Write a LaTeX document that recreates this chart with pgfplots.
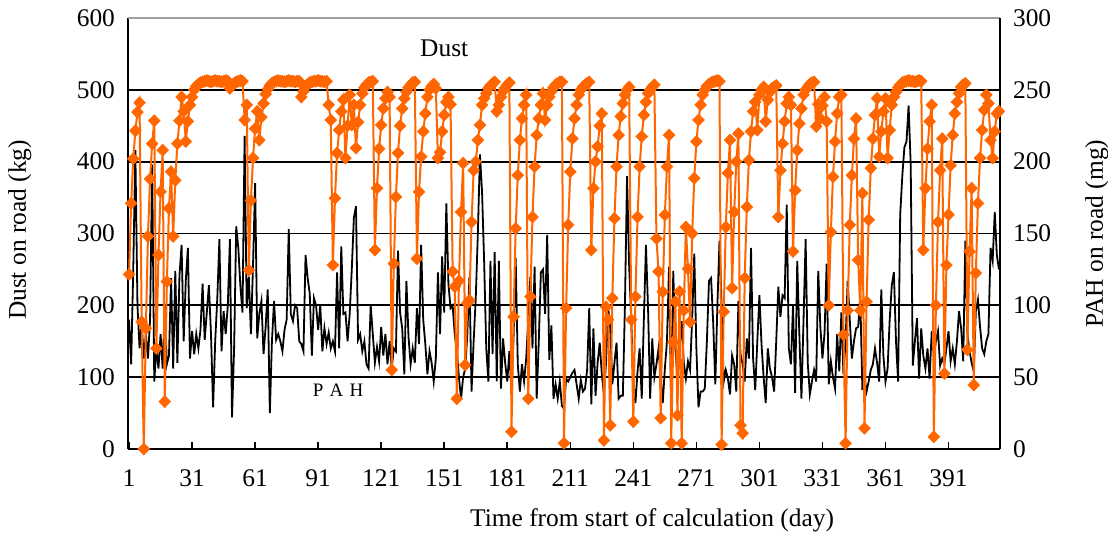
\documentclass[border=0pt]{standalone}
\usepackage{pgfplots}
\pgfplotsset{compat=1.18}
\usepackage{pgfplotstable}
\usepackage{fontspec}
\setmainfont{Liberation Serif}
\definecolor{dustorange}{RGB}{255,102,0}

% Dust on road (kg), day 1..415
\pgfplotstableread[row sep=\\]{d\\
243\\342\\404\\443\\469\\482\\177\\0\\168\\296\\376\\425\\457\\140\\270\\358\\416\\66\\233\\335\\386\\296\\374\\425\\457\\490\\470\\428\\456\\479\\490\\500\\505\\508\\510\\
511\\512\\513\\512\\511\\512\\513\\512\\512\\511\\512\\513\\512\\502\\506\\509\\511\\512\\513\\512\\458\\479\\249\\346\\405\\446\\470\\430\\462\\481\\494\\501\\506\\509\\511\\
512\\513\\512\\512\\511\\512\\513\\512\\512\\511\\512\\512\\490\\498\\504\\508\\510\\511\\512\\512\\513\\512\\512\\511\\512\\479\\458\\256\\349\\412\\444\\470\\486\\
405\\450\\493\\451\\479\\419\\455\\479\\495\\503\\507\\510\\511\\512\\277\\363\\418\\451\\474\\488\\497\\490\\110\\258\\351\\412\\450\\474\\488\\497\\503\\507\\510\\511\\265\\358\\
407\\442\\467\\490\\500\\505\\508\\502\\405\\413\\442\\465\\483\\490\\480\\247\\226\\70\\234\\330\\398\\117\\203\\207\\316\\388\\400\\430\\451\\479\\488\\495\\502\\506\\509\\
511\\470\\479\\490\\498\\503\\507\\510\\24\\184\\307\\381\\430\\460\\479\\493\\70\\212\\323\\393\\437\\460\\479\\495\\458\\479\\490\\498\\503\\507\\509\\511\\511\\
8\\196\\312\\386\\432\\460\\479\\493\\500\\504\\507\\509\\511\\277\\363\\400\\421\\450\\467\\12\\198\\180\\33\\210\\321\\393\\437\\463\\481\\493\\500\\504\\180\\38\\212\\323\\393\\435\\465\\483\\495\\500\\504\\507\\
293\\247\\43\\219\\326\\393\\437\\8\\149\\205\\47\\219\\8\\193\\309\\251\\177\\300\\377\\428\\458\\479\\493\\500\\505\\508\\510\\
511\\512\\513\\512\\6\\191\\309\\384\\430\\224\\330\\400\\439\\33\\22\\238\\337\\402\\442\\470\\483\\444\\493\\500\\504\\456\\486\\497\\502\\504\\506\\323\\388\\425\\
456\\481\\490\\479\\275\\360\\416\\453\\474\\493\\500\\504\\508\\510\\511\\449\\480\\460\\478\\490\\456\\200\\302\\379\\428\\467\\490\\493\\159\\8\\193\\312\\381\\432\\460\\
263\\193\\356\\29\\205\\319\\391\\432\\465\\488\\407\\442\\470\\488\\405\\444\\479\\490\\497\\503\\507\\510\\511\\512\\513\\512\\512\\511\\512\\513\\512\\277\\363\\418\\456\\479\\17\\200\\316\\388\\432\\
105\\256\\326\\395\\437\\467\\483\\495\\504\\507\\509\\138\\275\\363\\89\\245\\342\\405\\444\\472\\493\\481\\430\\405\\442\\467\\470\\
}\dust

% PAH on road (mg), day 1..415
\pgfplotstableread[row sep=\\]{p\\
90\\59\\125\\208\\100\\70\\88\\63\\80\\63\\90\\198\\47\\70\\56\\80\\56\\100\\59\\65\\119\\56\\124\\60\\121\\142\\75\\117\\140\\63\\82\\66\\80\\70\\83\\
115\\76\\95\\114\\80\\29\\75\\105\\146\\68\\96\\80\\100\\146\\22\\70\\155\\140\\113\\95\\218\\98\\120\\80\\128\\185\\77\\94\\103\\66\\85\\111\\25\\75\\103\\
76\\80\\75\\68\\83\\90\\153\\94\\89\\100\\98\\75\\73\\68\\135\\119\\108\\65\\105\\100\\83\\100\\68\\84\\73\\81\\70\\75\\68\\123\\70\\141\\94\\95\\
75\\94\\125\\161\\169\\76\\80\\68\\75\\59\\56\\100\\80\\60\\71\\61\\85\\65\\80\\59\\75\\56\\70\\68\\138\\95\\84\\52\\117\\78\\59\\70\\60\\98\\73\\
142\\90\\73\\52\\68\\60\\47\\63\\123\\80\\134\\95\\171\\115\\98\\100\\80\\68\\50\\35\\50\\56\\80\\120\\40\\75\\105\\150\\205\\179\\130\\70\\47\\131\\66\\
137\\47\\131\\42\\77\\60\\47\\68\\40\\78\\133\\59\\40\\59\\47\\63\\90\\120\\70\\127\\35\\75\\123\\125\\94\\149\\62\\86\\35\\45\\35\\47\\30\\28\\49\\
47\\50\\53\\55\\45\\35\\48\\40\\42\\55\\98\\31\\84\\37\\60\\74\\52\\38\\60\\99\\84\\45\\60\\74\\35\\37\\37\\100\\190\\128\\90\\47\\32\\54\\
70\\35\\90\\142\\98\\35\\77\\50\\59\\70\\50\\32\\56\\75\\127\\31\\124\\70\\49\\70\\89\\60\\49\\61\\55\\91\\136\\70\\29\\40\\40\\42\\75\\117\\119\\
88\\45\\100\\145\\100\\47\\55\\49\\38\\65\\59\\40\\103\\66\\59\\47\\77\\63\\140\\63\\41\\75\\107\\73\\50\\32\\70\\56\\50\\40\\75\\113\\92\\107\\105\\
170\\70\\59\\100\\39\\131\\80\\35\\90\\146\\60\\38\\47\\55\\47\\124\\85\\63\\81\\129\\45\\61\\50\\42\\80\\54\\95\\52\\75\\117\\90\\63\\75\\84\\85\\
106\\41\\50\\40\\47\\55\\59\\70\\60\\47\\111\\65\\47\\56\\90\\114\\123\\75\\47\\163\\190\\210\\214\\239\\198\\58\\75\\91\\49\\84\\65\\56\\70\\49\\
82\\66\\75\\82\\58\\63\\59\\70\\82\\61\\70\\59\\75\\96\\84\\61\\145\\80\\68\\60\\54\\96\\104\\85\\70\\66\\75\\80\\140\\131\\165\\135\\125\\
}\pah

\pgfplotsset{base/.style={width=436pt,height=215.5pt,scale only axis,
  xmin=0.5,xmax=415.5,
  /pgf/number format/assume math mode=true,
  tick label style={font=\fontsize{12.7}{14}\selectfont},
  label style={font=\fontsize{12.7}{14}\selectfont}}}

\begin{document}
\begin{tikzpicture}
% frame, grid, left axis, x axis
\begin{axis}[base, ymin=0, ymax=600,
  ytick={0,100,...,600}, xtick={1,31,...,391},
  axis x line*=bottom, axis y line*=left,
  axis line style={-,black,line width=1pt},
  ymajorgrids, major grid style={black,line width=0.9pt},
  tick align=inside, major tick length=3.5pt,
  xtick style={black,line width=0.8pt}, ytick style={draw=none},
  xticklabel style={yshift=-7pt}, yticklabel style={xshift=-3pt},
  xlabel={Time from start of calculation (day)},
  xlabel style={at={(axis description cs:0.601,0)}, anchor=center, yshift=-35.5pt},
  ylabel={Dust on road (kg)},
  ylabel style={at={(axis description cs:-0.124,0.508)}, anchor=center},
  clip=false]
\draw[gray!75, line width=1pt] (rel axis cs:0,1) -- (rel axis cs:1,1);
\coordinate (O) at (rel axis cs:0,0);
\end{axis}
% PAH, right axis
\begin{axis}[base, ymin=0, ymax=300,
  ytick={0,50,...,300},
  axis y line*=right, axis x line=none,
  axis line style={-,black,line width=1pt},
  ytick style={draw=none}, yticklabel style={xshift=3pt},
  ylabel={PAH on road (mg)},
  ylabel style={at={(axis description cs:1.111,0.5)}, anchor=center},
  clip=false]
\addplot[black, line width=0.9pt, no markers] table[x expr=\coordindex+1, y=p]{\pah};
\end{axis}
% Dust, left axis scale, on top
\begin{axis}[base, ymin=0, ymax=600, hide axis, clip=false]
\addplot[dustorange, line width=1pt, mark=diamond*, mark size=3pt,
  mark options={xscale=1.3, fill=dustorange, draw=dustorange, line width=0.3pt}]
  table[x expr=\coordindex+1, y=d]{\dust};
\node[font=\fontsize{12.7}{14}\selectfont] at (axis cs:151,558) {Dust};
\node[font=\fontsize{9.5}{10}\selectfont] at (axis cs:100.5,82) {P\,\,A\,\,H};
\end{axis}
\pgfresetboundingbox
\path (O) ++(-64pt,-42pt) rectangle ++(554pt,266.5pt);
\end{tikzpicture}
\end{document}
